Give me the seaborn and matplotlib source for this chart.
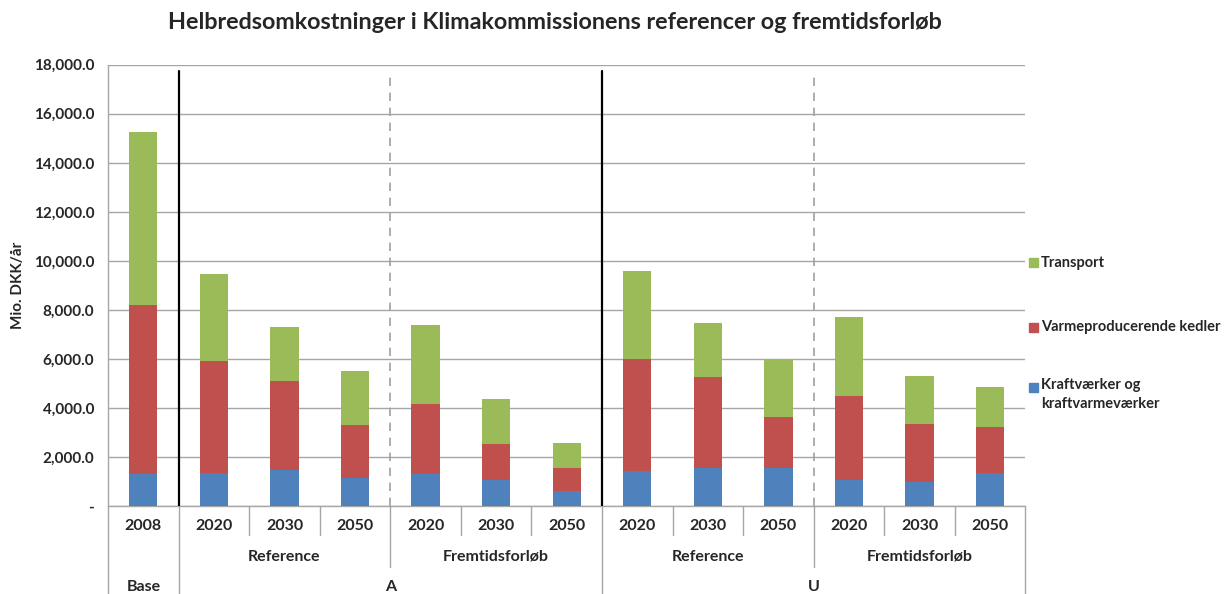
import matplotlib
matplotlib.use('Agg')
import matplotlib.pyplot as plt
from matplotlib.patches import Rectangle
import seaborn as sns
import numpy as np
import pandas as pd

# ── Data (Mio. DKK/år) ───────────────────────────────────────
years = ['2008', '2020', '2030', '2050', '2020', '2030', '2050',
         '2020', '2030', '2050', '2020', '2030', '2050']
scenarios = ['Reference', 'Fremtidsforløb', 'Reference', 'Fremtidsforløb']
scenario_pos = [2, 5, 8, 11]
groups = ['Base', 'A', 'U']
group_pos = [0, 3.5, 9.5]

kraft = [1300, 1350, 1480, 1150, 1320, 1050, 600, 1450, 1570, 1570, 1050, 1000, 1360]
varme = [6900, 4550, 3620, 2150, 2830, 1500, 950, 4550, 3700, 2060, 3430, 2330, 1860]
transport = [7050, 3550, 2200, 2200, 3250, 1830, 1030, 3570, 2200, 2340, 3220, 1970, 1650]

series = ['Kraftværker og\nkraftvarmeværker', 'Varmeproducerende kedler', 'Transport']
colors = ['#4F81BD', '#C0504D', '#9BBB59']

df = pd.DataFrame({'pos': np.arange(len(years)),
                   'kraft': kraft, 'varme': varme, 'transport': transport})
df['c1'] = df['kraft']
df['c2'] = df['c1'] + df['varme']
df['c3'] = df['c2'] + df['transport']

sns.set_style('white')
plt.rcParams['font.family'] = ['Lato', 'DejaVu Sans']
plt.rcParams['font.weight'] = 'bold'

fig = plt.figure(figsize=(12.28, 5.94), dpi=100)
ax = fig.add_axes([0.088, 0.148, 0.747, 0.743])

grid_c = '#A6A6A6'
# stacked bars: draw cumulative totals from the top down
for col, c in zip(['c3', 'c2', 'c1'], colors[::-1]):
    sns.barplot(data=df, x='pos', y=col, color=c, width=0.4,
                saturation=1, ax=ax, zorder=3, linewidth=0)

ax.set_xlim(-0.5, len(years) - 0.5)
ax.set_ylim(0, 18000)
yt = np.arange(0, 18001, 2000)
ax.set_yticks(yt)
ax.set_yticklabels(['-' if v == 0 else f'{v:,.1f}' for v in yt],
                   fontsize=11, fontweight='bold')
ax.yaxis.grid(True, color=grid_c, lw=1, zorder=0)
ax.tick_params(axis='y', length=4, color=grid_c, pad=6)
ax.set_xticks([])
ax.set_xlabel('')
ax.set_ylabel('Mio. DKK/år', fontsize=11, fontweight='bold', labelpad=6)
for s in ['top', 'right']:
    ax.spines[s].set_visible(False)
for s in ['left', 'bottom']:
    ax.spines[s].set_color(grid_c)
    ax.spines[s].set_linewidth(1)

# separators inside plot
top = 17730
for x in [0.5, 6.5]:
    ax.plot([x, x], [0, top], color='black', lw=1.6, zorder=4)
for x in [3.5, 9.5]:
    ax.plot([x, x], [0, top], color='#A0A0A0', lw=1.2, ls=(0, (5, 4)), zorder=4)

# multi-level category axis
tr = ax.get_xaxis_transform()
for i in range(len(years) + 1):
    x = i - 0.5
    if x in (-0.5, 0.5, 6.5, 12.5):
        y_end = -0.2
    elif x in (3.5, 9.5):
        y_end = -0.138
    else:
        y_end = -0.066
    ax.plot([x, x], [0, y_end], color=grid_c, lw=1, transform=tr, clip_on=False)

for i, yr in enumerate(years):
    ax.text(i, -0.045, yr, transform=tr, ha='center', va='center',
            fontsize=11.5, fontweight='bold')
for name, x in zip(scenarios, scenario_pos):
    ax.text(x, -0.115, name, transform=tr, ha='center', va='center',
            fontsize=11.5, fontweight='bold')
for name, x in zip(groups, group_pos):
    ax.text(x, -0.183, name, transform=tr, ha='center', va='center',
            fontsize=11.5, fontweight='bold')

# legend
leg_y = [262.7, 327, 387]
for lab, c, py in zip(series[::-1], colors[::-1], leg_y):
    fy = (594 - py) / 594
    fig.patches.append(Rectangle((1029 / 1228, fy - 4.5 / 594), 9 / 1228, 9 / 594,
                                 transform=fig.transFigure, color=c))
    fig.text(1041 / 1228, fy + (9 / 594 if '\n' in lab else 0), lab, ha='left',
             va='top' if '\n' in lab else 'center',
             fontsize=10.5, fontweight='bold', linespacing=1.45)

fig.text(555 / 1228, 0.962, 'Helbredsomkostninger i Klimakommissionens referencer og fremtidsforløb',
         ha='center', va='center', fontsize=16.8, fontweight='bold')

fig.savefig('out.png', dpi=100)
plt.close(fig)
